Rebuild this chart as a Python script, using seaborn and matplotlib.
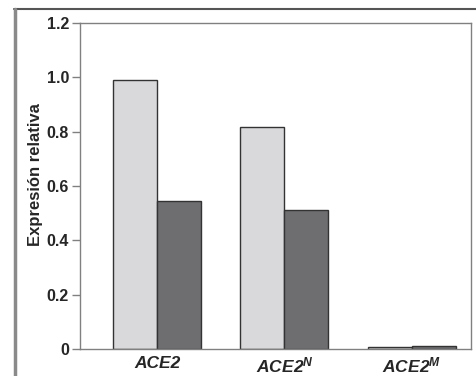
import pandas as pd
import seaborn as sns
import matplotlib.pyplot as plt
from matplotlib.lines import Line2D

# 数据
genes = ["ACE2", "ACE2N", "ACE2M"]
gene_labels = ["ACE2", r"ACE2$^{N}$", r"ACE2$^{M}$"]
grupo_claro = [0.99, 0.818, 0.009]
grupo_oscuro = [0.545, 0.512, 0.01]
y_ticks = [0, 0.2, 0.4, 0.6, 0.8, 1.0, 1.2]
y_tick_labels = ["0", "0.2", "0.4", "0.6", "0.8", "1.0", "1.2"]

df = pd.DataFrame({
    "gene": genes * 2,
    "grupo": ["claro"] * 3 + ["oscuro"] * 3,
    "valor": grupo_claro + grupo_oscuro,
})

sns.set_style("white")
plt.rcParams['font.family'] = ['Liberation Sans', 'DejaVu Sans']
plt.rcParams['mathtext.fontset'] = 'custom'
plt.rcParams['mathtext.it'] = 'Liberation Sans:italic:bold'
plt.rcParams['mathtext.rm'] = 'Liberation Sans:bold'

fig = plt.figure(figsize=(4.77, 3.76), dpi=100)
ax = fig.add_axes([0.1677, 0.0718, 0.8197, 0.867])

sns.barplot(data=df, x="gene", y="valor", hue="grupo",
            palette={"claro": "#d9d9dc", "oscuro": "#6e6e70"},
            width=0.69, edgecolor="#333333", linewidth=1.0,
            legend=False, ax=ax)

ax.set_xlim(-0.604, 2.463)
ax.set_ylim(0, 1.2)
ax.set_yticks(y_ticks)
ax.set_yticklabels(y_tick_labels, fontsize=11.5, fontweight="bold")
ax.set_xticks(range(len(genes)))
ax.set_xticklabels(gene_labels, fontsize=12.5, fontweight="bold", style="italic")
ax.tick_params(axis="y", direction="out", length=6, width=1, color="#808080", pad=2, left=True)
ax.tick_params(axis="x", length=0, pad=5)
ax.set_xlabel("")
ax.set_ylabel("Expresión relativa", fontsize=12, fontweight="bold")
ax.yaxis.set_label_coords(-0.095, 0.535)

for s in ax.spines.values():
    s.set_color("#808080")
    s.set_linewidth(1.0)

# marco exterior
fig.add_artist(Line2D([0.03, 1.0], [0.975, 0.975], transform=fig.transFigure,
                      color="#555555", linewidth=1.5))
fig.add_artist(Line2D([0.031, 0.031], [0.0, 0.975], transform=fig.transFigure,
                      color="#8a8a8a", linewidth=2.5))

fig.savefig("out.png", dpi=100)
